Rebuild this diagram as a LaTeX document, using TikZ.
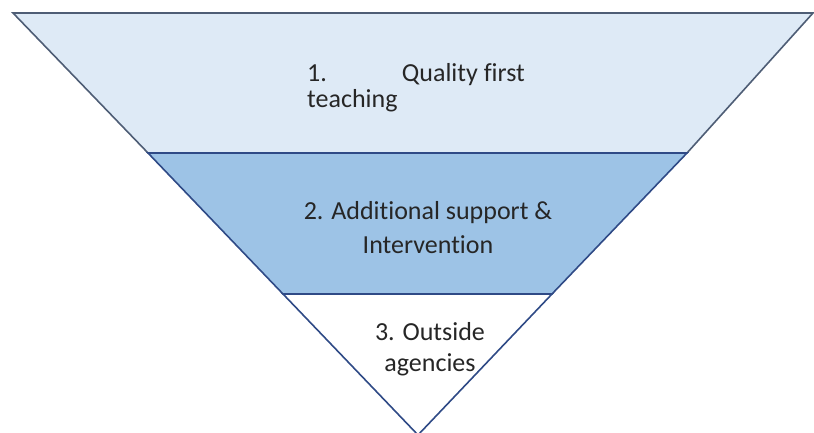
\documentclass[tikz,border=0pt]{standalone}
\usepackage{fontspec}
\setmainfont[Ligatures=NoCommon]{Carlito}
\definecolor{bandtop}{HTML}{DEEAF6}
\definecolor{bandmid}{HTML}{9DC3E6}
\definecolor{edgegrey}{HTML}{4E5D75}
\definecolor{edgenavy}{HTML}{2F4A86}
\definecolor{ink}{HTML}{262626}
\begin{document}
\begin{tikzpicture}[x=1bp,y=1bp,
    band/.style={line width=1.6bp},
    lbl/.style={inner sep=0pt, text=ink, font=\fontsize{26bp}{31bp}\selectfont}]
  \useasboundingbox (0,0) rectangle (814,433);
  \filldraw[band, fill=bandtop, draw=edgegrey]
    (13,420) -- (813,420) -- (687,280) -- (148,280) -- cycle;
  \filldraw[band, fill=bandmid, draw=edgenavy]
    (148,280) -- (687,280) -- (552,139) -- (283,139) -- cycle;
  \filldraw[band, fill=white, draw=edgenavy]
    (283,139) -- (552,139) -- (418,-2) -- cycle;
  \node[lbl, anchor=base west] (1a) at (307,351) {1.\hspace{75bp}Quality first};
  \node[lbl, anchor=base west] (1b) at (307,325) {teaching};
  \node[lbl, anchor=base] (2a) at (428,213) {2. Additional support \&};
  \node[lbl, anchor=base] (2b) at (428,179) {Intervention};
  \node[lbl, anchor=base] (3a) at (430,92) {3. Outside};
  \node[lbl, anchor=base] (3b) at (430,61) {agencies};
\end{tikzpicture}
\end{document}
